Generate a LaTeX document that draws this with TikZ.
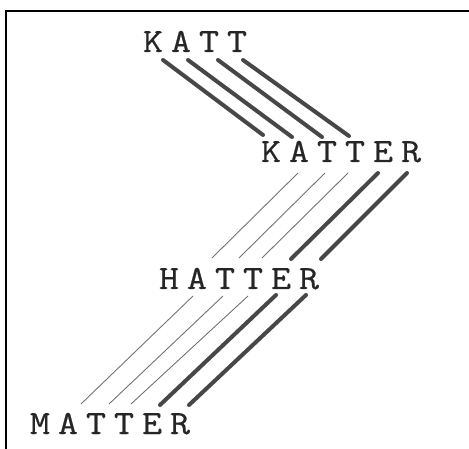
\documentclass[tikz,border=0pt]{standalone}
\usepackage{fontspec}
\newfontfamily\wordfont[FakeStretch=1.15,FakeBold=0.5]{Latin Modern Mono}
\begin{document}
\begin{tikzpicture}[x=1pt,y=-1pt,
  ltr/.style={inner sep=0pt,anchor=base,font=\wordfont\fontsize{34}{34}\selectfont,text=black!85},
  thickln/.style={line width=4pt,draw=black!72,line cap=round},
  thinln/.style={line width=0.9pt,draw=black!55},
  frame/.style={line width=1.3pt,draw=black}]
\useasboundingbox (0,0) rectangle (469,449);
\draw[frame] (6,449) -- (6,11) -- (469,11);
% words
\foreach \c [count=\i] in {K,A,T,T}{\node[ltr] (w1\i) at (153+28*\i-28,52) {\c};}
\foreach \c [count=\i] in {K,A,T,T,E,R}{\node[ltr] (w2\i) at (271+28*\i-28,162) {\c};}
\foreach \c [count=\i] in {H,A,T,T,E,R}{\node[ltr] (w3\i) at (169+28*\i-28,289) {\c};}
\foreach \c [count=\i] in {M,A,T,T,E,R}{\node[ltr] (w4\i) at (40+28*\i-28,434) {\c};}
% KATT -> KATTER
\coordinate (a1) at (163,60); \coordinate (b1) at (263,135);
\coordinate (a2) at (188,60); \coordinate (b2) at (292,137);
\coordinate (a3) at (218,60); \coordinate (b3) at (322,137);
\coordinate (a4) at (243,60); \coordinate (b4) at (349,136);
\foreach \i in {1,...,4}{\draw[thickln] (a\i) -- (b\i);}
% KATTER -> HATTER
\coordinate (c1) at (298,173); \coordinate (d1) at (212,258);
\coordinate (c2) at (325,173); \coordinate (d2) at (239,258);
\coordinate (c3) at (348,173); \coordinate (d3) at (262,258);
\coordinate (c4) at (378,173); \coordinate (d4) at (291,259);
\coordinate (c5) at (407,173); \coordinate (d5) at (321,259);
\foreach \i in {1,2,3}{\draw[thinln] (c\i) -- (d\i);}
\foreach \i in {4,5}{\draw[thickln] (c\i) -- (d\i);}
% HATTER -> MATTER
\coordinate (e1) at (193,296); \coordinate (f1) at (81,404);
\coordinate (e2) at (223,296); \coordinate (f2) at (109,404);
\coordinate (e3) at (248,296); \coordinate (f3) at (131,404);
\coordinate (e4) at (276,295); \coordinate (f4) at (160,405);
\coordinate (e5) at (306,295); \coordinate (f5) at (189,405);
\foreach \i in {1,2,3}{\draw[thinln] (e\i) -- (f\i);}
\foreach \i in {4,5}{\draw[thickln] (e\i) -- (f\i);}
\end{tikzpicture}
\end{document}
